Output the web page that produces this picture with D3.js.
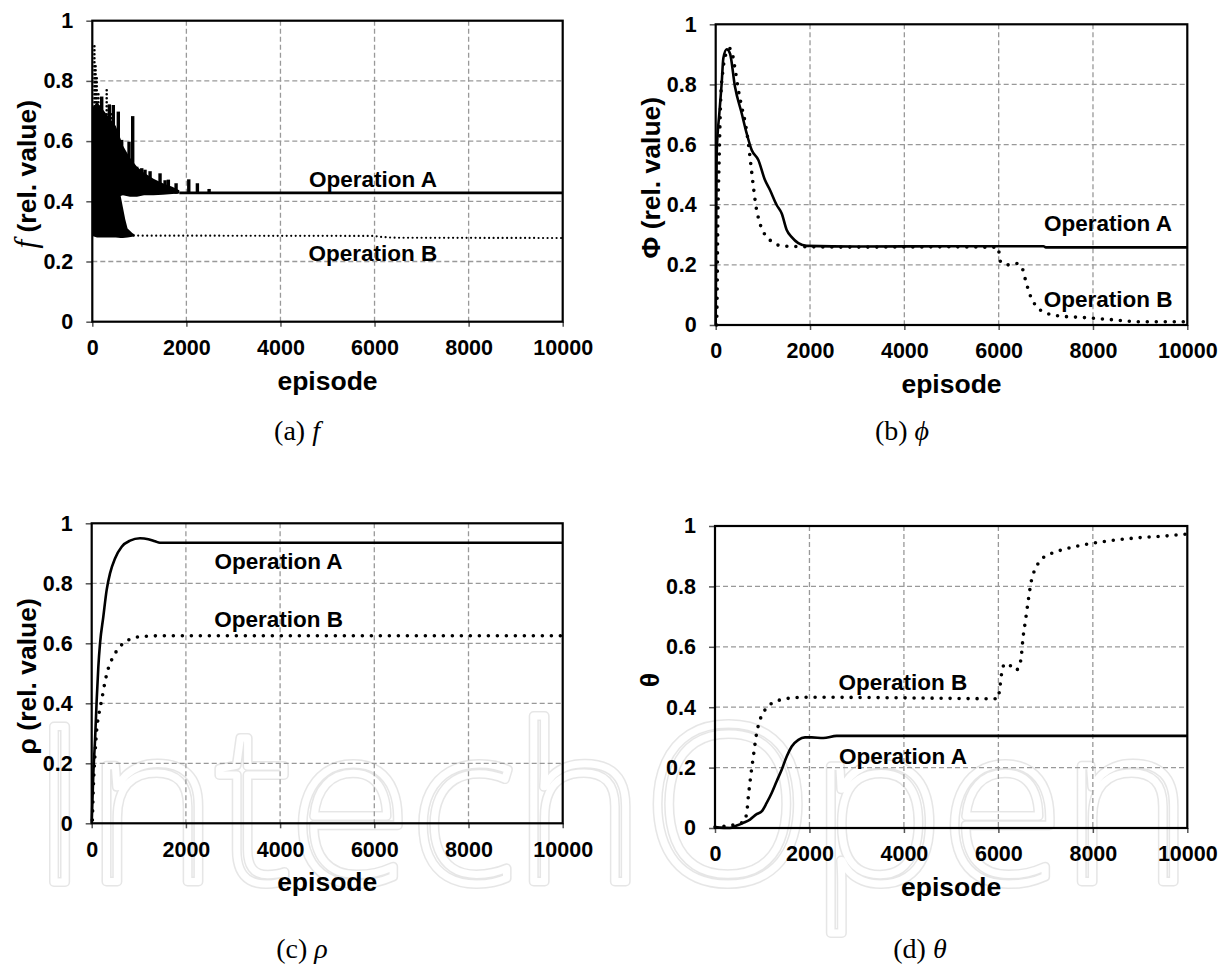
<!DOCTYPE html>
<html>
<head>
<meta charset="utf-8">
<script src="https://cdn.jsdelivr.net/npm/d3@7/dist/d3.min.js"></script>
<style>
  body { margin: 0; background: #fff; }
</style>
</head>
<body>
<svg id="chart" width="1227" height="979" font-family='"Liberation Sans", Arial, sans-serif'></svg>
<script>
// ---- data ----
const xTicks = [0, 2000, 4000, 6000, 8000, 10000];
const yTicks = [0, 0.2, 0.4, 0.6, 0.8, 1];

// (a) f : noisy bands [episode, low, high], spikes [episode, peak], settled tails
const fA_band = [[0,0.30,0.71],[100,0.30,0.73],[200,0.31,0.71],[300,0.33,0.69],[400,0.36,0.67],[500,0.40,0.65],
  [550,0.415,0.63],[650,0.42,0.585],[800,0.415,0.545],[950,0.415,0.515],[1100,0.42,0.495],[1300,0.42,0.475],
  [1500,0.422,0.46],[1700,0.424,0.448],[1850,0.426,0.437]];
const fA_spikes = [[200,0.748],[362,0.722],[447,0.72],[553,0.698],[625,0.604],[781,0.598],[859,0.683],
  [944,0.515],[1051,0.51],[1121,0.505],[1228,0.50],[1440,0.493],[1547,0.47],[1617,0.472],[1781,0.46],
  [2051,0.473],[2234,0.46],[2483,0.441]];
const fA_tail = [[1850,0.428],[10000,0.428]];
const fB_band = [[0,0.285,0.50],[100,0.28,0.48],[300,0.28,0.46],[500,0.28,0.44],[550,0.279,0.43],[600,0.278,0.42],
  [650,0.278,0.38],[700,0.279,0.34],[750,0.28,0.31],[850,0.282,0.295],[900,0.284,0.29]];
const fB_spikes = [[45,0.92],[70,0.86],[95,0.81],[130,0.76],[200,0.74],[306,0.78],[400,0.69]];
const fB_tail = [[880,0.286],[6000,0.285],[6100,0.282],[6400,0.279],[10000,0.278]];

// (b) phi
const phiA = [[0,0],[10,0.3],[21,0.571],[77,0.704],[127,0.804],[162,0.887],[233,0.917],[303,0.903],[409,0.792],
  [551,0.704],[657,0.637],[763,0.582],[904,0.549],[1045,0.482],[1151,0.449],[1293,0.399],[1400,0.371],
  [1506,0.316],[1612,0.292],[1752,0.272],[1930,0.263],[3000,0.261],[5000,0.262],[6950,0.262],[7000,0.258],[10000,0.258]];
const phiB = [[20,0],[30,0.1],[42,0.31],[70,0.53],[106,0.75],[148,0.84],[197,0.89],[289,0.92],[339,0.91],
  [409,0.853],[480,0.782],[551,0.726],[622,0.676],[692,0.605],[742,0.538],[799,0.46],[855,0.394],[926,0.344],
  [1045,0.3],[1187,0.278],[1364,0.264],[1647,0.261],[3000,0.259],[5000,0.26],[5983,0.258],[6042,0.21],
  [6192,0.2],[6360,0.205],[6485,0.194],[6569,0.15],[6653,0.105],[6778,0.066],[6946,0.044],[7280,0.03],
  [7782,0.025],[8452,0.017],[8954,0.011],[10000,0.011]];

// (c) rho
const rhoA = [[0,0],[35,0.167],[71,0.278],[106,0.411],[141,0.522],[177,0.6],[247,0.689],[318,0.778],[389,0.833],
  [495,0.883],[637,0.922],[813,0.942],[1025,0.95],[1202,0.947],[1344,0.94],[1450,0.935],[10000,0.935]];
const rhoB = [[14,0.011],[35,0.122],[71,0.233],[106,0.311],[156,0.367],[212,0.411],[283,0.472],[354,0.517],
  [460,0.556],[601,0.589],[778,0.611],[1025,0.622],[1450,0.625],[10000,0.625]];

// (d) theta
const thetaA = [[0,0.003],[318,0],[459,0.008],[600,0.017],[741,0.028],[882,0.046],[988,0.055],[1094,0.083],
  [1200,0.116],[1306,0.155],[1412,0.193],[1518,0.237],[1624,0.27],[1765,0.292],[1906,0.3],[2047,0.3],
  [2294,0.298],[2576,0.305],[10000,0.305]];
const thetaB = [[0,0.003],[600,0.019],[671,0.049],[706,0.104],[755,0.17],[812,0.237],[882,0.314],[953,0.358],
  [1059,0.391],[1200,0.413],[1376,0.424],[1588,0.43],[1941,0.433],[4000,0.431],[5990,0.428],[6032,0.467],
  [6074,0.517],[6140,0.544],[6240,0.539],[6366,0.522],[6450,0.539],[6491,0.577],[6516,0.621],[6575,0.688],
  [6633,0.754],[6700,0.82],[6784,0.859],[6909,0.889],[7118,0.909],[7368,0.922],[7786,0.937],[8204,0.948],
  [8622,0.956],[9040,0.962],[9457,0.966],[9958,0.973]];

const SANS = '"Liberation Sans", Arial, sans-serif';
const SERIF = '"Liberation Serif", "Times New Roman", serif';
const svg = d3.select('#chart');

const solid = sel => sel.attr('fill', 'none').attr('stroke', '#000').attr('stroke-width', 2.6)
  .attr('stroke-linejoin', 'round');
const dotted = (sel, w, gap) => sel.attr('fill', 'none').attr('stroke', '#000').attr('stroke-width', w)
  .attr('stroke-linecap', 'round').attr('stroke-dasharray', `0 ${gap}`);

function drawF(g, x, y) {
  const area = d3.area().x(d => x(d[0])).y0(d => y(d[1])).y1(d => y(d[2]));
  // B dotted bursts sit on top of the band
  g.selectAll('.bsp').data(fB_spikes).join('path')
    .attr('d', d => d3.line()([[x(d[0]), y(0.45)], [x(d[0]), y(d[1])]]))
    .call(dotted, 2.6, 4);
  g.append('path').datum(fB_band).attr('d', area).attr('fill', '#000');
  g.append('path').datum(fB_tail).attr('d', d3.line().x(d => x(d[0])).y(d => y(d[1])))
    .call(dotted, 2.2, 4.5);
  g.append('path').datum(fA_band).attr('d', area).attr('fill', '#000');
  g.selectAll('.asp').data(fA_spikes).join('path')
    .attr('d', d => d3.line()([[x(d[0]), y(0.425)], [x(d[0]), y(d[1])]]))
    .attr('stroke', '#000').attr('stroke-width', 3.4);
  g.append('path').datum(fA_tail).attr('d', d3.line().x(d => x(d[0])).y(d => y(d[1]))).call(solid);
}

function drawPair(a, b) {
  return (g, x, y) => {
    const line = d3.line().x(d => x(d[0])).y(d => y(d[1])).curve(d3.curveMonotoneX);
    g.append('path').datum(b).attr('d', line).call(dotted, 3.6, 9);
    g.append('path').datum(a).attr('d', line).call(solid);
  };
}

const panels = [
  { left: 92.3, right: 562.7, top: 20.7, bottom: 321.7, draw: drawF,
    title: [['f', 'serif'], [' (rel. value)', 'sans']],
    labA: [5967, 0.471], labB: [5967, 0.228], caption: ['(a) ', 'f'], capX: 297, capY: 440 },
  { left: 715.7, right: 1187.3, top: 24.3, bottom: 325, draw: drawPair(phiA, phiB),
    title: [['\u03A6 (rel. value)', 'sans']],
    labA: [8319, 0.339], labB: [8319, 0.085], caption: ['(b) ', '\u03D5'], capX: 902, capY: 440 },
  { left: 91.7, right: 562.7, top: 523.3, bottom: 823.3, draw: drawPair(rhoA, rhoB),
    title: [['\u03C1 (rel. value)', 'sans']],
    labA: [3968, 0.872], labB: [3968, 0.68], caption: ['(c) ', '\u03C1'], capX: 302, capY: 958 },
  { left: 715, right: 1187.3, top: 526, bottom: 828, draw: drawPair(thetaA, thetaB),
    title: [['\u03B8', 'sans']],
    labA: [3980, 0.238], labB: [3980, 0.482], caption: ['(d) ', '\u03B8'], capX: 920, capY: 958 }
];

// faint publisher watermark, behind the plots
const wm = svg.append('g').attr('opacity', 0.45);
['#c8c8c8', '#ffffff'].forEach((c, i) => {
  wm.append('text').attr('x', 32).attr('y', 882)
    .attr('font-family', '"Open Sans", sans-serif').attr('font-weight', 300).attr('font-size', 218)
    .attr('textLength', 1160).attr('lengthAdjust', 'spacingAndGlyphs')
    .attr('fill', 'none').attr('stroke', c).attr('stroke-width', i === 0 ? 10 : 7)
    .attr('stroke-linejoin', 'round').text('IntechOpen');
});

panels.forEach(p => {
  const x = d3.scaleLinear().domain([0, 10000]).range([p.left, p.right]);
  const y = d3.scaleLinear().domain([0, 1]).range([p.bottom, p.top]);
  const g = svg.append('g');

  // grid
  g.selectAll('.gx').data(xTicks.slice(1, -1)).join('line')
    .attr('x1', d => x(d)).attr('x2', d => x(d)).attr('y1', p.top).attr('y2', p.bottom)
    .attr('stroke', '#999').attr('stroke-width', 1.3).attr('stroke-dasharray', '5 3');
  g.selectAll('.gy').data(yTicks.slice(1, -1)).join('line')
    .attr('y1', d => y(d)).attr('y2', d => y(d)).attr('x1', p.left).attr('x2', p.right)
    .attr('stroke', '#999').attr('stroke-width', 1.3).attr('stroke-dasharray', '5 3');

  // axes
  const ax = g.append('g').attr('transform', `translate(0,${p.bottom})`)
    .call(d3.axisBottom(x).tickValues(xTicks).tickSize(5).tickSizeOuter(0).tickPadding(13)
      .tickFormat(d => String(d)));
  const ay = g.append('g').attr('transform', `translate(${p.left},0)`)
    .call(d3.axisLeft(y).tickValues(yTicks).tickSize(6).tickSizeOuter(0).tickPadding(13)
      .tickFormat(d => String(d)));
  [ax, ay].forEach(a => {
    a.attr('font-family', SANS).attr('font-size', 21.5);
    a.select('.domain').remove();
    a.selectAll('line').attr('stroke', '#555').attr('stroke-width', 1.5);
    a.selectAll('text').attr('font-weight', 'bold').attr('fill', '#000');
  });

  p.draw(g, x, y);

  // frame
  g.append('rect').attr('x', p.left).attr('y', p.top)
    .attr('width', p.right - p.left).attr('height', p.bottom - p.top)
    .attr('fill', 'none').attr('stroke', '#000').attr('stroke-width', 2.2);

  // series labels
  [['Operation A', p.labA], ['Operation B', p.labB]].forEach(([t, pos]) => {
    g.append('text').attr('x', x(pos[0])).attr('y', y(pos[1]))
      .attr('text-anchor', 'middle').attr('dominant-baseline', 'central')
      .attr('font-size', 22.5).attr('font-weight', 'bold').text(t);
  });

  // x title
  g.append('text').attr('x', (p.left + p.right) / 2).attr('y', p.bottom + 68)
    .attr('text-anchor', 'middle').attr('font-size', 26.5).attr('font-weight', 'bold').text('episode');

  // y title
  const yt = g.append('text')
    .attr('transform', `translate(${p.left - 56},${(p.top + p.bottom) / 2 + 3}) rotate(-90)`)
    .attr('text-anchor', 'middle').attr('font-size', 26.5).attr('font-weight', 'bold');
  p.title.forEach(([t, kind]) => {
    const ts = yt.append('tspan').text(t);
    if (kind === 'serif') ts.attr('font-family', SERIF).attr('font-style', 'italic')
      .attr('font-weight', 'normal').attr('font-size', 31);
  });

  // caption
  const cap = svg.append('text').attr('x', p.capX).attr('y', p.capY).attr('text-anchor', 'middle')
    .attr('font-family', SERIF).attr('font-size', 28);
  cap.append('tspan').text(p.caption[0]);
  cap.append('tspan').attr('font-style', 'italic').text(p.caption[1]);
});
</script>
</body>
</html>
